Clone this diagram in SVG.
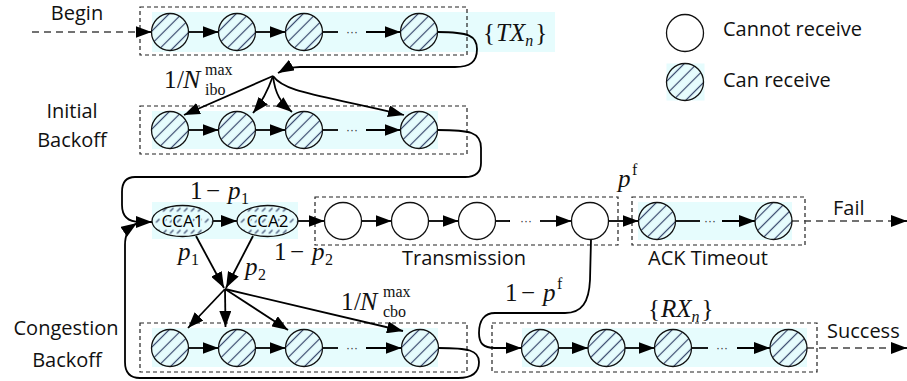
<svg xmlns="http://www.w3.org/2000/svg" width="907" height="381" viewBox="0 0 907 381">
<style>
.box{fill:none;stroke:#222;stroke-width:1.2;stroke-dasharray:4 3}
.band{fill:#e6fcfd}
.c{fill:none;stroke:#000;stroke-width:1.8}
.d{fill:none;stroke:#444;stroke-width:1.5;stroke-dasharray:7 5}
.lbl{font-family:"Open Sans","Noto Sans",sans-serif;font-size:20px;fill:#111}
.cca{font-family:"Open Sans","Noto Sans",sans-serif;font-size:17px;fill:#000;text-anchor:middle;stroke:#e6fcfd;stroke-width:3;paint-order:stroke}
.m{font-family:"Liberation Serif","Times New Roman",serif;font-size:25px;fill:#111}
.it{font-style:italic}
.s{font-size:16px}
.dots{font-family:"Liberation Sans",Arial,sans-serif;font-size:12px;fill:#333;text-anchor:middle}
</style>
<defs>
<pattern id="hatch" width="9" height="9" patternUnits="userSpaceOnUse" patternTransform="rotate(45)">
<line x1="4.5" y1="0" x2="4.5" y2="9" stroke="#34456a" stroke-width="1.2"/>
</pattern>
<pattern id="hatch2" x="0" y="5.5" width="7" height="11" patternUnits="userSpaceOnUse">
<line x1="1.5" y1="7" x2="5" y2="3.5" stroke="#34456a" stroke-width="1.1"/>
</pattern>
<marker id="ah" markerWidth="16" markerHeight="12" refX="16" refY="6" orient="auto" markerUnits="userSpaceOnUse">
<path d="M0,0 L16,6 L0,12 z" fill="#000"/>
</marker>
<g id="hc"><circle r="18.5" fill="#e6fcfd"/><circle r="18.5" fill="url(#hatch)" stroke="#111" stroke-width="1.3"/></g>
<g id="wc"><circle r="18.5" fill="#fff" stroke="#111" stroke-width="1.3"/></g>
<g id="he"><ellipse rx="30.5" ry="15.5" fill="#e6fcfd"/><ellipse rx="30.5" ry="15.5" fill="url(#hatch2)" stroke="#111" stroke-width="1.3"/></g>
</defs>

<!-- containers -->
<g id="containers">
<rect class="band" x="152" y="12" width="403" height="40"/>
<rect class="box" x="140" y="7" width="327" height="48"/>
<rect class="band" x="152" y="111" width="286" height="38"/>
<rect class="box" x="140" y="106" width="327" height="48"/>
<rect class="band" x="152" y="202" width="146" height="37"/>
<rect class="box" x="315" y="197" width="303" height="48"/>
<rect class="band" x="638" y="202" width="154" height="38"/>
<rect class="box" x="632" y="197" width="173" height="48"/>
<rect class="band" x="152" y="328" width="286" height="39"/>
<rect class="box" x="140" y="323" width="327" height="49"/>
<rect class="band" x="522" y="328" width="285" height="39"/>
<rect class="box" x="492" y="323" width="325" height="49"/>
</g>

<!-- connectors -->
<g id="connectors">
<path class="d" d="M32,32 H146" />
<path class="c" d="M146,32 H151.5" marker-end="url(#ah)"/>
<path class="c" d="M188.5,32 H218.5" marker-end="url(#ah)"/>
<path class="c" d="M255.5,32 H285.5" marker-end="url(#ah)"/>
<path class="c" d="M322.5,32 H338"/>
<path class="c" d="M366,32 H400.5" marker-end="url(#ah)"/>
<path class="c" d="M437.5,32 C469,32 477,36 477,49 C477,62 470,67 455,67 L300,67 C291,67 285,69 278,73" marker-end="url(#ah)"/>
<path class="c" d="M273,76 L184,115" marker-end="url(#ah)"/>
<path class="c" d="M273,76 C268,90 263,101 253,113" marker-end="url(#ah)"/>
<path class="c" d="M273,76 C275,94 281,103 292,112" marker-end="url(#ah)"/>
<path class="c" d="M273,76 C285,93 322,95 404,115" marker-end="url(#ah)"/>
<path class="c" d="M188.5,130 H218.5" marker-end="url(#ah)"/>
<path class="c" d="M255.5,130 H285.5" marker-end="url(#ah)"/>
<path class="c" d="M322.5,130 H338"/>
<path class="c" d="M366,130 H400.5" marker-end="url(#ah)"/>
<path class="c" d="M437.5,130 C470,130 481,132 481,148 L481,163 C481,172 476,177 465,177 L135,177 C126,177 122,182 122,192 L122,205 C122,216 128,222 140,222 L152,222" marker-end="url(#ah)"/>
<path class="c" d="M213,221 H237" marker-end="url(#ah)"/>
<path class="c" d="M298,221 H324.5" marker-end="url(#ah)"/>
<path class="c" d="M196,236 L224,288" marker-end="url(#ah)"/>
<path class="c" d="M253,236 L226,288" marker-end="url(#ah)"/>
<path class="c" d="M225,289 L188,328" marker-end="url(#ah)"/>
<path class="c" d="M225,289 L225.5,327" marker-end="url(#ah)"/>
<path class="c" d="M225,289 L288,330" marker-end="url(#ah)"/>
<path class="c" d="M225,289 L403,331" marker-end="url(#ah)"/>
<path class="c" d="M361.5,221 H391.5" marker-end="url(#ah)"/>
<path class="c" d="M428.5,221 H458.5" marker-end="url(#ah)"/>
<path class="c" d="M495.5,221 H510"/>
<path class="c" d="M540,221 H571.5" marker-end="url(#ah)"/>
<path class="c" d="M608.5,221 H638.5" marker-end="url(#ah)"/>
<path class="c" d="M675.5,221 H700"/>
<path class="c" d="M722,221 H755" marker-end="url(#ah)"/>
<path class="d" d="M792,221 H900"/>
<path class="c" d="M898,221 H907" marker-end="url(#ah)"/>
<path class="c" d="M188.5,348 H218.5" marker-end="url(#ah)"/>
<path class="c" d="M255.5,348 H285.5" marker-end="url(#ah)"/>
<path class="c" d="M322.5,348 H338"/>
<path class="c" d="M366,348 H401.5" marker-end="url(#ah)"/>
<path class="c" d="M438.5,348 C468,348 479,350 479,362 C479,373 472,378 458,378 L140,378 C130,378 125,372 125,362 L125,245 C125,235 128,229 137,223" marker-end="url(#ah)"/>
<path class="c" d="M591,239.5 L590,280 C589,302 582,313 565,313 L495,313 C485,313 479,320 479,333 C479,343 483,348 495,348 L521.5,348" marker-end="url(#ah)"/>
<path class="c" d="M558.5,348 H588" marker-end="url(#ah)"/>
<path class="c" d="M625,348 H654.5" marker-end="url(#ah)"/>
<path class="c" d="M691.5,348 H708"/>
<path class="c" d="M737,348 H770" marker-end="url(#ah)"/>
<path class="d" d="M807,348 H900"/>
<path class="c" d="M898,348 H907" marker-end="url(#ah)"/>
<text class="dots" x="352" y="35.5">···</text>
<text class="dots" x="352" y="133.5">···</text>
<text class="dots" x="352" y="351.5">···</text>
<text class="dots" x="526" y="224.5">···</text>
<text class="dots" x="710" y="224.5">···</text>
<text class="dots" x="722" y="351.5">···</text>
</g>

<!-- nodes -->
<g id="tx1"><use href="#hc" x="170" y="32"/></g>
<g id="tx2"><use href="#hc" x="237" y="32"/></g>
<g id="tx3"><use href="#hc" x="304" y="32"/></g>
<g id="txn"><use href="#hc" x="419" y="32"/></g>
<g id="ibo1"><use href="#hc" x="170" y="130"/></g>
<g id="ibo2"><use href="#hc" x="237" y="130"/></g>
<g id="ibo3"><use href="#hc" x="304" y="130"/></g>
<g id="ibon"><use href="#hc" x="419" y="130"/></g>
<g id="cca1"><use href="#he" x="182.5" y="221"/><text class="cca" x="182.5" y="227">CCA1</text></g>
<g id="cca2"><use href="#he" x="267.5" y="221"/><text class="cca" x="267.5" y="227">CCA2</text></g>
<g id="tr1"><use href="#wc" x="343" y="221"/></g>
<g id="tr2"><use href="#wc" x="410" y="221"/></g>
<g id="tr3"><use href="#wc" x="477" y="221"/></g>
<g id="trn"><use href="#wc" x="590" y="221"/></g>
<g id="ack1"><use href="#hc" x="657" y="221"/></g>
<g id="ackn"><use href="#hc" x="773.5" y="221"/></g>
<g id="cbo1"><use href="#hc" x="170" y="348"/></g>
<g id="cbo2"><use href="#hc" x="237" y="348"/></g>
<g id="cbo3"><use href="#hc" x="304" y="348"/></g>
<g id="cbon"><use href="#hc" x="420" y="348"/></g>
<g id="rx1"><use href="#hc" x="540" y="348"/></g>
<g id="rx2"><use href="#hc" x="606.5" y="348"/></g>
<g id="rx3"><use href="#hc" x="673" y="348"/></g>
<g id="rxn"><use href="#hc" x="788.5" y="348"/></g>

<!-- legend -->
<g id="legend">
<use href="#wc" x="685" y="33"/>
<rect class="band" x="666.5" y="63.5" width="38" height="37"/>
<use href="#hc" x="685" y="82"/>
<text class="lbl" x="723" y="36">Cannot receive</text>
<text class="lbl" x="723" y="87">Can receive</text>
</g>

<!-- labels -->
<g id="labels">
<text class="lbl" x="77" y="20" text-anchor="middle">Begin</text>
<text class="lbl" x="72" y="118" text-anchor="middle">Initial</text>
<text class="lbl" x="72" y="147" text-anchor="middle">Backoff</text>
<text class="lbl" x="66" y="335" text-anchor="middle">Congestion</text>
<text class="lbl" x="67" y="367" text-anchor="middle">Backoff</text>
<text class="lbl" x="464" y="265" text-anchor="middle">Transmission</text>
<text class="lbl" x="708" y="265" text-anchor="middle">ACK Timeout</text>
<text class="lbl" x="833" y="215">Fail</text>
<text class="lbl" x="827" y="338">Success</text>

<text class="m" y="88"><tspan x="164">1</tspan><tspan x="177">/</tspan><tspan x="183" class="it" font-size="26">N</tspan><tspan x="205" y="75" class="s">max</tspan><tspan x="205" y="95" class="s">ibo</tspan></text>
<text class="m" y="310"><tspan x="341">1</tspan><tspan x="354">/</tspan><tspan x="360" class="it" font-size="26">N</tspan><tspan x="383" y="297" class="s">max</tspan><tspan x="383" y="317" class="s">cbo</tspan></text>
<text class="m" y="41"><tspan x="483">{</tspan><tspan class="it" dx="1">TX</tspan><tspan class="s it" dy="5">n</tspan><tspan dy="-5" dx="2">}</tspan></text>
<text class="m" y="317"><tspan x="648">{</tspan><tspan class="it" dx="1">RX</tspan><tspan class="s it" dy="5">n</tspan><tspan dy="-5" dx="2">}</tspan></text>
<text class="m" y="199"><tspan x="190">1</tspan><tspan x="206">−</tspan><tspan x="228" class="it">p</tspan><tspan x="241" dy="5" class="s">1</tspan></text>
<text class="m" y="260"><tspan x="274">1</tspan><tspan x="290">−</tspan><tspan x="312" class="it">p</tspan><tspan x="325" dy="5" class="s">2</tspan></text>
<text class="m" y="260"><tspan x="178" class="it">p</tspan><tspan x="191" dy="5" class="s">1</tspan></text>
<text class="m" y="275"><tspan x="245" class="it">p</tspan><tspan x="258" dy="5" class="s">2</tspan></text>
<text class="m" y="187"><tspan x="618" class="it">p</tspan><tspan x="632" y="175" class="s">f</tspan></text>
<text class="m" y="301"><tspan x="505">1</tspan><tspan x="521">−</tspan><tspan x="543" class="it">p</tspan><tspan x="557" y="289" class="s">f</tspan></text>
</g>
</svg>
